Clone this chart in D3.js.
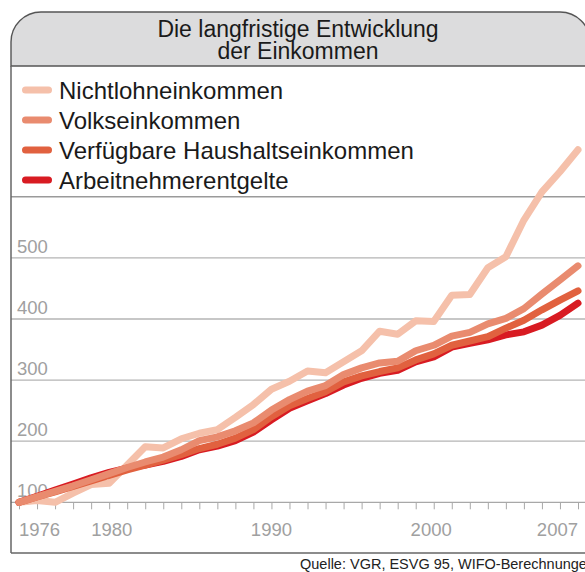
<!DOCTYPE html>
<html>
<head>
<meta charset="utf-8">
<script src="https://cdn.jsdelivr.net/npm/d3@7"></script>
<style>
  html, body { margin: 0; padding: 0; background: #fff; }
  svg { display: block; font-family: "Liberation Sans", Arial, Helvetica, sans-serif; }
</style>
</head>
<body>
<div id="chart"></div>
<script>
// Index 1976 = 100
const years = d3.range(1976, 2008);

const nichtlohn = [100, 103, 100, 115, 129, 131, 161, 191, 189, 204,
  213, 219, 239, 260, 285, 298, 315, 312, 330, 348,
  380, 375, 397, 396, 439, 440, 484, 502, 562, 608, 641, 677];

const volks = [100, 109, 118, 127, 137, 147, 157, 166, 174, 186,
  201, 207, 217, 230, 251, 268, 282, 291, 309, 320,
  328, 331, 348, 357, 372, 378, 392, 401, 417, 441, 464, 487];

const verfuegbar = [100, 109, 117, 126, 135, 144, 153, 161, 169, 178,
  188, 195, 205, 219, 240, 258, 270, 281, 297, 307,
  314, 320, 333, 343, 357, 364, 371, 385, 398, 415, 431, 446];

const arbeitnehmer = [100, 110, 120, 130, 140, 149, 156, 161, 167, 175,
  186, 192, 201, 215, 235, 254, 266, 278, 292, 303,
  311, 316, 330, 338, 354, 360, 366, 374, 379, 390, 406, 426];

const seriesNames = ['Nichtlohneinkommen', 'Volkseinkommen', 'Verfügbare Haushaltseinkommen', 'Arbeitnehmerentgelte'];
const seriesValues = [nichtlohn, volks, verfuegbar, arbeitnehmer];
const seriesColors = ['#f5c0aa', '#e98b6f', '#e1613f', '#d81b22'];
// drawing order: light line at the back, Volkseinkommen on top
const drawOrder = [0, 3, 2, 1];

const yTicks = [100, 200, 300, 400, 500];
const yearLabels = [1976, 1980, 1990, 2000, 2007];
const labelAnchor = { 1976: 'start', 1980: 'start', 1990: 'middle', 2000: 'end', 2007: 'end' };

const titleLines = ['Die langfristige Entwicklung', 'der Einkommen'];
const source = 'Quelle: VGR, ESVG 95, WIFO-Berechnungen';

const width = 585;
const height = 572;
const left = 11;

const svg = d3.select('#chart').append('svg')
  .attr('width', width)
  .attr('height', height);

const x = d3.scaleLinear().domain([1976, 2007]).range([19, 578]);
const y = d3.scaleLinear().domain([100, 600]).range([502.3, 196.8]);

// header box with rounded top corners
svg.append('path')
  .attr('d', `M${left},66 V42 A30,30 0 0 1 ${left + 30},12 H560 A30,30 0 0 1 590,42 V66 Z`)
  .attr('fill', '#dcdcdd')
  .attr('stroke', '#555')
  .attr('stroke-width', 1.4);

svg.append('text')
  .attr('x', 298)
  .attr('text-anchor', 'middle')
  .style('font-size', '23px')
  .style('fill', '#1a1a1a')
  .selectAll('tspan')
  .data(titleLines)
  .enter().append('tspan')
  .attr('x', 298)
  .attr('y', (d, i) => 37 + i * 22)
  .text(d => d);

// legend
const legend = svg.append('g');
seriesNames.forEach((name, i) => {
  const ly = 90 + i * 30;
  legend.append('line')
    .attr('x1', 25.5).attr('x2', 48.5)
    .attr('y1', ly).attr('y2', ly)
    .attr('stroke', seriesColors[i])
    .attr('stroke-width', 7)
    .attr('stroke-linecap', 'round');
  legend.append('text')
    .attr('x', 59)
    .attr('y', ly + 8.5)
    .style('font-size', '24px')
    .style('fill', '#1a1a1a')
    .text(name);
});

// gridlines
svg.append('g')
  .selectAll('line')
  .data(yTicks.slice(1))
  .enter().append('line')
  .attr('x1', left).attr('x2', width)
  .attr('y1', d => y(d)).attr('y2', d => y(d))
  .attr('stroke', '#b4b4b4')
  .attr('stroke-width', 1.3);

// separator under the legend (600 line)
svg.append('line')
  .attr('x1', left).attr('x2', width)
  .attr('y1', y(600)).attr('y2', y(600))
  .attr('stroke', '#9a9a9a')
  .attr('stroke-width', 1.5);

// y tick labels
svg.append('g')
  .selectAll('text')
  .data(yTicks)
  .enter().append('text')
  .attr('x', 17)
  .attr('y', d => y(d) - 5)
  .style('font-size', '18.5px')
  .style('fill', '#a0a0a0')
  .text(d => d);

// x axis with yearly ticks
const xAxis = d3.axisBottom(x)
  .tickValues(years)
  .tickSize(7)
  .tickFormat('');

const axisG = svg.append('g')
  .attr('transform', `translate(0,${y(100)})`)
  .call(xAxis);
axisG.select('.domain').remove();
axisG.selectAll('.tick line').attr('stroke', '#a8a8a8').attr('stroke-width', 1);

svg.append('line')
  .attr('x1', left).attr('x2', width)
  .attr('y1', y(100)).attr('y2', y(100))
  .attr('stroke', '#a8a8a8')
  .attr('stroke-width', 1.3);

svg.append('g')
  .selectAll('text')
  .data(yearLabels)
  .enter().append('text')
  .attr('x', d => x(d))
  .attr('y', 536)
  .attr('text-anchor', d => labelAnchor[d])
  .style('font-size', '18.5px')
  .style('fill', '#a0a0a0')
  .text(d => d);

// lines
const line = d3.line()
  .x((d, i) => x(years[i]))
  .y(d => y(d));

svg.append('g')
  .selectAll('path')
  .data(drawOrder)
  .enter().append('path')
  .attr('d', k => line(seriesValues[k]))
  .attr('fill', 'none')
  .attr('stroke', k => seriesColors[k])
  .attr('stroke-width', 7)
  .attr('stroke-linejoin', 'round')
  .attr('stroke-linecap', 'round');

// frame
svg.append('line')
  .attr('x1', left).attr('x2', left)
  .attr('y1', 66).attr('y2', 553)
  .attr('stroke', '#666')
  .attr('stroke-width', 1.5);

svg.append('line')
  .attr('x1', left).attr('x2', width)
  .attr('y1', 553).attr('y2', 553)
  .attr('stroke', '#666')
  .attr('stroke-width', 1.5);

svg.append('text')
  .attr('x', 300)
  .attr('y', 569)
  .style('font-size', '14.5px')
  .style('fill', '#222')
  .text(source);
</script>
</body>
</html>
